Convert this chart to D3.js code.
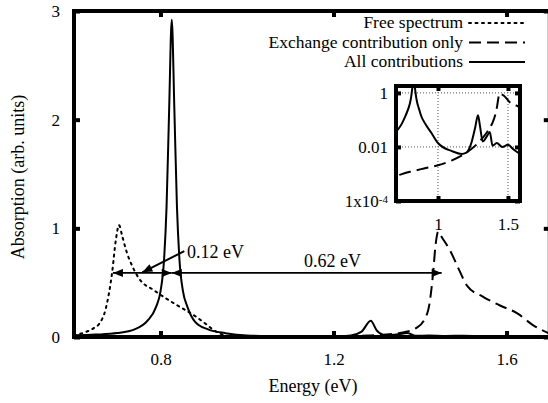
<!DOCTYPE html>
<html>
<head>
<meta charset="utf-8">
<script src="https://cdn.jsdelivr.net/npm/d3@7"></script>
<style>
  body { margin: 0; background: #fff; }
</style>
</head>
<body>
<div id="chart"></div>
<script>
// energies (eV) and absorption
let freeE = [0.60, 0.623, 0.645, 0.658, 0.674, 0.688, 0.697, 0.704, 0.712, 0.722, 0.735, 0.750, 0.785, 0.831, 0.877, 0.905, 0.924, 0.95, 0.98, 1.0]
let freeA = [0.015, 0.04, 0.08, 0.12, 0.27, 0.59, 0.9, 1.03, 0.92, 0.78, 0.65, 0.54, 0.43, 0.31, 0.20, 0.12, 0.06, 0.015, 0.003, 0.001]

let exchE = [0.60, 0.70, 0.80, 0.90, 1.00, 1.10, 1.20, 1.28, 1.35, 1.37, 1.39, 1.41, 1.422, 1.43, 1.436, 1.442, 1.45, 1.469, 1.49, 1.509, 1.546, 1.585, 1.624, 1.661, 1.70]
let exchA = [0.0006, 0.00085, 0.0012, 0.0016, 0.0021, 0.0032, 0.006, 0.013, 0.035, 0.05, 0.08, 0.16, 0.31, 0.58, 0.85, 0.97, 0.92, 0.80, 0.62, 0.47, 0.37, 0.29, 0.22, 0.11, 0.03]

let allE = [0.60, 0.65, 0.70, 0.74, 0.77, 0.79, 0.80, 0.808, 0.814, 0.82, 0.826, 0.832, 0.838, 0.844, 0.852, 0.862, 0.88, 0.91, 0.95, 1.00, 1.10, 1.17, 1.20, 1.24, 1.265, 1.286, 1.30, 1.32, 1.35, 1.37, 1.39, 1.42, 1.46, 1.50, 1.54, 1.60, 1.70]
let allA = [0.015, 0.022, 0.036, 0.07, 0.15, 0.28, 0.42, 0.7, 1.2, 2.1, 2.92, 2.1, 1.2, 0.7, 0.42, 0.28, 0.14, 0.07, 0.035, 0.014, 0.007, 0.0055, 0.006, 0.015, 0.05, 0.15, 0.06, 0.016, 0.025, 0.036, 0.011, 0.014, 0.01, 0.012, 0.008, 0.005, 0.003]

let xTicks = [0.8, 1.2, 1.6]
let yTicks = [0, 1, 2, 3]
let insetXTicks = [1, 1.5]
let insetYTicks = [1, 0.01, 1e-4]

let legendLabels = ["Free spectrum", "Exchange contribution only", "All contributions"]

// annotations: [from energy, to energy, level]
let gapArrows = [[0.826, 0.69, 0.59], [0.826, 1.45, 0.59]]
let gapLabels = ["0.12 eV", "0.62 eV"]

let width = 548, height = 403

let svg = d3.select("#chart").append("svg")
  .attr("width", width)
  .attr("height", height)

let x = d3.scaleLinear().domain([0.6, 1.7]).range([74, 549.8])
let y = d3.scaleLinear().domain([0, 3]).range([337, 11])

let defs = svg.append("defs")
defs.append("clipPath").attr("id", "mainClip")
  .append("rect").attr("x", 74).attr("y", 11).attr("width", 476).attr("height", 326)

defs.append("marker")
  .attr("id", "head")
  .attr("markerUnits", "userSpaceOnUse")
  .attr("viewBox", "0 0 10 8")
  .attr("refX", 10).attr("refY", 4)
  .attr("markerWidth", 11).attr("markerHeight", 8)
  .attr("orient", "auto-start-reverse")
  .append("path").attr("d", "M0,0 L10,4 L0,8 Z").attr("fill", "black")

let styles = [
  { dash: "2,4.5", cap: "round" },
  { dash: "12,6", cap: "butt" },
  { dash: null, cap: "butt" }
]

let series = [
  d3.zip(freeE, freeA),
  d3.zip(exchE, exchA),
  d3.zip(allE, allA)
]

let line = d3.line()
  .x(d => x(d[0]))
  .y(d => y(d[1]))
  .curve(d3.curveMonotoneX)

let plot = svg.append("g").attr("clip-path", "url(#mainClip)")
series.forEach((s, i) => {
  plot.append("path")
    .attr("d", line(s))
    .attr("fill", "none")
    .attr("stroke", "black")
    .attr("stroke-width", 2)
    .attr("stroke-linecap", styles[i].cap)
    .attr("stroke-dasharray", styles[i].dash)
})

// axes (gnuplot style: inward ticks on all sides)
let xAxis = d3.axisBottom(x).tickValues(xTicks).tickSize(-6).tickPadding(16).tickFormat(d3.format(".1f"))
let yAxis = d3.axisLeft(y).tickValues(yTicks).tickSize(-6).tickPadding(14).tickFormat(d3.format("d"))

let gX = svg.append("g").attr("transform", "translate(0," + y(0) + ")").call(xAxis)
let gY = svg.append("g").attr("transform", "translate(" + x(0.6) + ",0)").call(yAxis)
let gXt = svg.append("g").attr("transform", "translate(0," + y(3) + ")")
  .call(d3.axisTop(x).tickValues(xTicks).tickSize(-6).tickFormat(""))
let gYr = svg.append("g").attr("transform", "translate(" + x(1.7) + ",0)")
  .call(d3.axisRight(y).tickValues(yTicks).tickSize(-6).tickFormat(""))

;[gX, gY, gXt, gYr].forEach(g => {
  g.select(".domain").remove()
  g.selectAll(".tick line").attr("stroke", "black").attr("stroke-width", 4)
  g.selectAll("text").attr("font-size", 17).attr("fill", "black")
})

svg.append("rect")
  .attr("x", x(0.6)).attr("y", y(3))
  .attr("width", x(1.7) - x(0.6)).attr("height", y(0) - y(3))
  .attr("fill", "none").attr("stroke", "black").attr("stroke-width", 4)

svg.append("text")
  .attr("x", 313).attr("y", 392)
  .attr("text-anchor", "middle")
  .attr("font-size", 18)
  .text("Energy (eV)")

svg.append("text")
  .attr("transform", "translate(24,177) rotate(-90)")
  .attr("text-anchor", "middle")
  .attr("font-size", 18)
  .text("Absorption (arb. units)")

// legend
legendLabels.forEach((lab, i) => {
  let by = 28 + i * 19.5
  svg.append("text")
    .attr("x", 463).attr("y", by)
    .attr("text-anchor", "end")
    .attr("font-size", 17.5)
    .text(lab)
  svg.append("line")
    .attr("x1", 469).attr("x2", 525)
    .attr("y1", by - 5).attr("y2", by - 5)
    .attr("stroke", "black").attr("stroke-width", 2)
    .attr("stroke-linecap", styles[i].cap)
    .attr("stroke-dasharray", styles[i].dash)
})

// gap arrows
gapArrows.forEach(a => {
  svg.append("line")
    .attr("x1", x(a[0])).attr("y1", y(a[2]))
    .attr("x2", x(a[1])).attr("y2", y(a[2]))
    .attr("stroke", "black").attr("stroke-width", 1.6)
    .attr("marker-start", "url(#head)")
    .attr("marker-end", "url(#head)")
})

// pointer to the 0.12 eV gap
svg.append("line")
  .attr("x1", x(0.855)).attr("y1", y(0.79))
  .attr("x2", x(0.758)).attr("y2", y(0.595))
  .attr("stroke", "black").attr("stroke-width", 2)
  .attr("marker-end", "url(#head)")

svg.append("text").attr("x", 187).attr("y", 258).attr("font-size", 18).text(gapLabels[0])
svg.append("text").attr("x", 304).attr("y", 267).attr("font-size", 18).text(gapLabels[1])

// inset on log scale
let ix = d3.scaleLinear().domain([0.7, 1.586]).range([396, 520])
let iy = d3.scaleLog().domain([1e-4, 1.8]).range([201, 86])

defs.append("clipPath").attr("id", "insetClip")
  .append("rect").attr("x", 396).attr("y", 86).attr("width", 124).attr("height", 115)

let inset = svg.append("g")
inset.append("rect").attr("x", 396).attr("y", 86).attr("width", 124).attr("height", 115).attr("fill", "white")

insetXTicks.forEach(t => {
  inset.append("line").attr("x1", ix(t)).attr("x2", ix(t)).attr("y1", 86).attr("y2", 201)
    .attr("stroke", "#555").attr("stroke-width", 1).attr("stroke-dasharray", "1,2")
})
insetYTicks.slice(0, 2).forEach(t => {
  inset.append("line").attr("x1", 396).attr("x2", 520).attr("y1", iy(t)).attr("y2", iy(t))
    .attr("stroke", "#555").attr("stroke-width", 1).attr("stroke-dasharray", "1,2")
})

let iline = d3.line()
  .x(d => ix(d[0]))
  .y(d => iy(d[1]))
  .curve(d3.curveMonotoneX)

let ip = inset.append("g").attr("clip-path", "url(#insetClip)")
;[1, 2].forEach(i => {
  ip.append("path")
    .attr("d", iline(series[i]))
    .attr("fill", "none")
    .attr("stroke", "black")
    .attr("stroke-width", 2)
    .attr("stroke-dasharray", styles[i].dash)
})

let iXb = inset.append("g").attr("transform", "translate(0,201)")
  .call(d3.axisBottom(ix).tickValues(insetXTicks).tickSize(-5).tickPadding(17).tickFormat(d3.format("")))
let iXt = inset.append("g").attr("transform", "translate(0,86)")
  .call(d3.axisTop(ix).tickValues(insetXTicks).tickSize(-5).tickFormat(""))
let iYl = inset.append("g").attr("transform", "translate(396,0)")
  .call(d3.axisLeft(iy).tickValues(insetYTicks).tickSize(-5).tickPadding(9).tickFormat(""))
let iYr = inset.append("g").attr("transform", "translate(520,0)")
  .call(d3.axisRight(iy).tickValues(insetYTicks).tickSize(-5).tickFormat(""))

;[iXb, iXt, iYl, iYr].forEach(g => {
  g.select(".domain").remove()
  g.selectAll(".tick line").attr("stroke", "black").attr("stroke-width", 4)
  g.selectAll("text").attr("font-size", 17).attr("fill", "black")
})

// log labels with superscript
iYl.selectAll(".tick").each(function(d) {
  let t = d3.select(this).append("text")
    .attr("x", -8).attr("dy", "0.35em")
    .attr("text-anchor", "end")
    .attr("font-size", 17)
    .attr("fill", "black")
  if (d === 1e-4) {
    t.append("tspan").text("1x10")
    t.append("tspan").attr("dy", "-0.45em").attr("font-size", 11).text("-4")
  } else {
    t.text(d === 1 ? "1" : "0.01")
  }
})

inset.append("rect").attr("x", 396).attr("y", 86).attr("width", 124).attr("height", 115)
  .attr("fill", "none").attr("stroke", "black").attr("stroke-width", 4)

// serif everywhere, as in the original figure
svg.selectAll("text").style("font-family", "'Liberation Serif'")
</script>
</body>
</html>
